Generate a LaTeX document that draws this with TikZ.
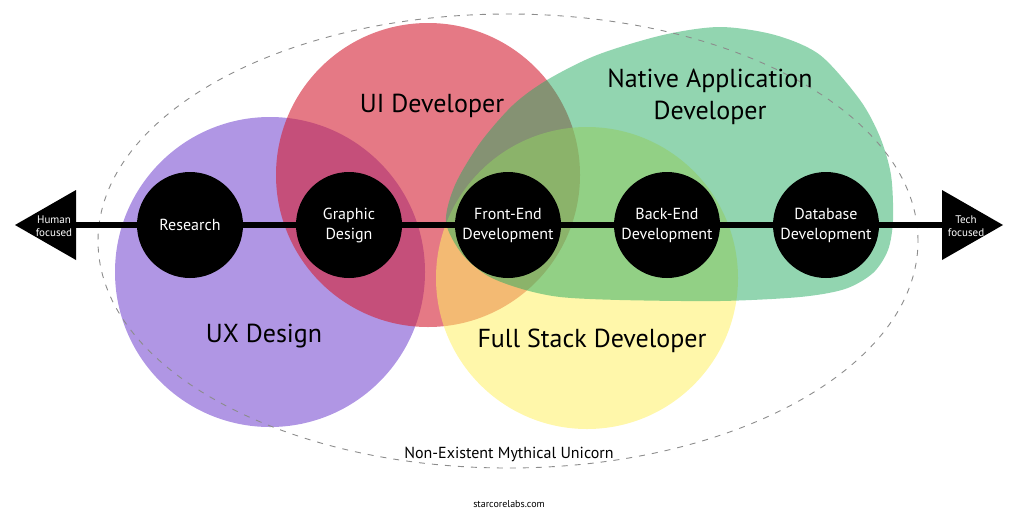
\documentclass[tikz,border=0pt]{standalone}
\usepackage{fontspec}
\setmainfont{PT Sans}
\usepackage{xcolor}
\usepackage{tikz}
\definecolor{uxcolor}{RGB}{123,80,210}
\definecolor{uicolor}{RGB}{212,32,52}
\definecolor{fullcolor}{RGB}{255,240,100}
\definecolor{nativecolor}{RGB}{37,171,97}
\definecolor{unicorncolor}{RGB}{140,140,140}

\tikzset{
  skill/.style={circle, fill=black, minimum size=106pt, inner sep=0pt, text=white, align=center, font=\fontsize{16pt}{20pt}\selectfont},
  role/.style={align=center, font=\fontsize{26pt}{32pt}\selectfont},
  endlabel/.style={align=center, text=white, inner sep=0pt, font=\fontsize{11pt}{13pt}\selectfont},
}

\begin{document}
\begin{tikzpicture}[x=1pt, y=-1pt]%
\useasboundingbox (0, 0) rectangle (1024, 512);%
% roles
\fill[uxcolor, fill opacity=0.6] (270, 272) circle[radius=155pt];%
\fill[uicolor, fill opacity=0.6] (428, 175) circle[radius=152pt];%
\fill[fullcolor, fill opacity=0.55] (587, 278) circle[radius=151pt];%
\fill[nativecolor, fill opacity=0.5] plot[smooth cycle, tension=0.5] coordinates {(446, 222) (455, 185) (480, 143) (513, 105) (547, 80) (597, 55) (663, 35) (720, 27) (775, 35) (820, 55) (860, 100) (880, 137) (891, 175) (893, 220) (888, 250) (873, 273) (845, 289) (800, 297) (720, 301) (620, 300) (560, 297) (522, 289) (488, 276) (462, 254)};%
\draw[unicorncolor, line width=0.9pt, dash pattern=on 6pt off 7pt] (508, 241) ellipse[x radius=410pt, y radius=227pt];%
% axis
\coordinate (humanbase) at (76, 225);%
\coordinate (techbase) at (942, 225);%
\fill (15, 225) -- (76, 190) -- (76, 260) -- cycle;%
\fill (1003, 225) -- (942, 190) -- (942, 260) -- cycle;%
\draw[line width=6pt] (humanbase) -- (techbase);%
\node[endlabel] (human) at (54, 226) {Human\\focused};%
\node[endlabel] (tech) at (966, 226) {Tech\\focused};%
% skills
\node[skill] (research) at (190, 225) {Research};%
\node[skill] (graphic) at (349, 225) {Graphic\\Design};%
\node[skill] (frontend) at (508, 225) {Front-End\\Development};%
\node[skill] (backend) at (667, 225) {Back-End\\Development};%
\node[skill] (database) at (826, 225) {Database\\Development};%
% labels
\node[role, anchor=base] (uilabel) at (432, 112) {UI Developer};%
\node[role] (nativelabel) at (710, 97) {Native Application\\Developer};%
\node[role, anchor=base] (uxlabel) at (264, 342) {UX Design};%
\node[role, anchor=base] (fulllabel) at (592, 347) {Full Stack Developer};%
\node[anchor=base, font=\fontsize{16pt}{19pt}\selectfont] (unicorn) at (509, 458) {Non-Existent Mythical Unicorn};%
\node[anchor=base, font=\fontsize{10pt}{12pt}\selectfont] (site) at (509, 507) {starcorelabs.com};%
\end{tikzpicture}
\end{document}
